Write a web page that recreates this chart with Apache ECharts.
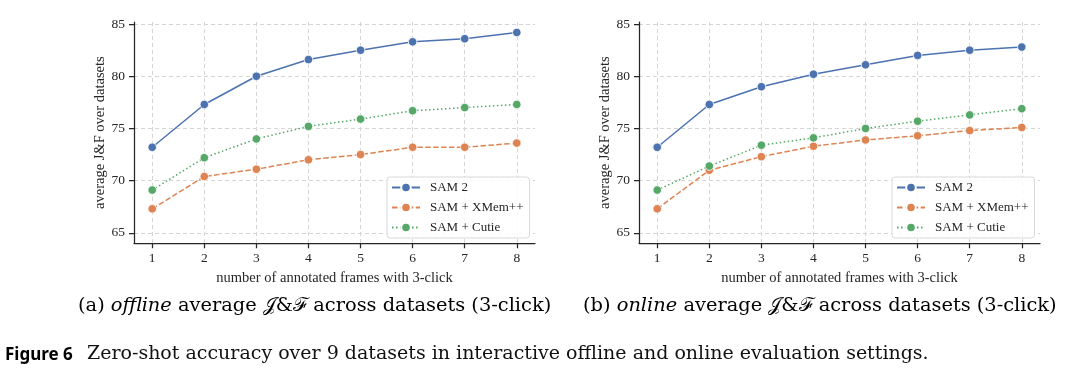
<!DOCTYPE html>
<html>
<head>
<meta charset="utf-8">
<script src="https://cdn.jsdelivr.net/npm/echarts@6/dist/echarts.min.js"></script>
<style>
html,body{margin:0;padding:0;background:#fff;}
#c{width:1072px;height:378px;}
</style>
</head>
<body>
<div id="c"></div>
<script>
// ---- data ----
const frames = [1, 2, 3, 4, 5, 6, 7, 8];
const yTicks = [65, 70, 75, 80, 85];
const seriesNames = ['SAM 2', 'SAM + XMem++', 'SAM + Cutie'];
const offlineSam2  = [73.2, 77.3, 80.0, 81.6, 82.5, 83.3, 83.6, 84.2];
const offlineXMem  = [67.3, 70.4, 71.1, 72.0, 72.5, 73.2, 73.2, 73.6];
const offlineCutie = [69.1, 72.2, 74.0, 75.2, 75.9, 76.7, 77.0, 77.3];
const onlineSam2   = [73.2, 77.3, 79.0, 80.2, 81.1, 82.0, 82.5, 82.8];
const onlineXMem   = [67.3, 71.0, 72.3, 73.3, 73.9, 74.3, 74.8, 75.1];
const onlineCutie  = [69.1, 71.4, 73.4, 74.1, 75.0, 75.7, 76.3, 76.9];
const xAxisTitle = 'number of annotated frames with 3-click';
const yAxisTitle = 'average J&F over datasets';

// ---- styles ----
const SERIF = 'Liberation Serif';
const CAP = 'DejaVu Serif';
const colors = ['#4C72B0', '#DD8452', '#55A868'];
const lineTypes = ['solid', [5.5, 2.4], [1.5, 2.5]];
const axisDark = '#262626';

const panels = [
  { left: 134, data: [offlineSam2, offlineXMem, offlineCutie] },
  { left: 639, data: [onlineSam2, onlineXMem, onlineCutie] }
];

const grids = [], xAxes = [], yAxes = [], series = [], legends = [];
panels.forEach((p, i) => {
  grids.push({ left: p.left, top: 22, width: 401, height: 221.3, containLabel: false });
  xAxes.push({
    type: 'value', gridIndex: i, min: 0.65, max: 8.35,
    name: xAxisTitle, nameLocation: 'middle', nameGap: 22,
    nameTextStyle: { fontFamily: SERIF, fontSize: 14.5, color: '#262626' },
    axisLine: { show: true, lineStyle: { color: axisDark, width: 1.25 } },
    axisTick: { show: true, length: 5, lineStyle: { color: axisDark, width: 1.25 }, customValues: frames },
    axisLabel: { fontFamily: SERIF, fontSize: 13.5, color: '#262626', margin: 8, customValues: frames },
    splitLine: { show: true, lineStyle: { color: '#d5d5d5', type: [4, 3], width: 1 } }
  });
  yAxes.push({
    type: 'value', gridIndex: i, min: 64, max: 85.2,
    name: yAxisTitle, nameLocation: 'middle', nameGap: 23, nameRotate: 90,
    nameTextStyle: { fontFamily: SERIF, fontSize: 14.5, color: '#262626' },
    axisLine: { show: true, lineStyle: { color: axisDark, width: 1.25 } },
    axisTick: { show: true, length: 5, lineStyle: { color: axisDark, width: 1.25 }, customValues: yTicks },
    axisLabel: { fontFamily: SERIF, fontSize: 13.5, color: '#262626', margin: 9, customValues: yTicks },
    splitLine: { show: true, lineStyle: { color: '#d5d5d5', type: [4, 3], width: 1 } }
  });
  p.data.forEach((vals, k) => {
    series.push({
      name: seriesNames[k], type: 'line', xAxisIndex: i, yAxisIndex: i,
      data: frames.map((f, j) => [f, vals[j]]),
      symbol: 'circle', symbolSize: 8.5, showSymbol: true,
      color: colors[k],
      lineStyle: { color: colors[k], width: 1.5, type: lineTypes[k] },
      itemStyle: { color: colors[k], borderColor: '#ffffff', borderWidth: 0.8 },
      z: 3 + k, animation: false
    });
  });
  legends.push({
    orient: 'vertical', left: p.left + 253, top: 177,
    data: seriesNames,
    itemWidth: 28, itemHeight: 12, itemGap: 7,
    padding: [4, 6, 4, 4],
    backgroundColor: 'rgba(255,255,255,0.85)',
    borderColor: '#d9d9d9', borderWidth: 1, borderRadius: 3,
    textStyle: { fontFamily: SERIF, fontSize: 13, color: '#262626', padding: [0, 0, 0, 5] },
    selectedMode: false
  });
});

const captionRich = {
  r: { fontFamily: CAP, fontSize: 19.4, color: '#111' },
  i: { fontFamily: CAP, fontSize: 19.4, fontStyle: 'italic', color: '#111' },
  s: { fontFamily: 'DejaVu Serif', fontSize: 19.4, color: '#111' }
};

const option = {
  animation: false,
  backgroundColor: '#ffffff',
  grid: grids, xAxis: xAxes, yAxis: yAxes, series: series, legend: legends,
  graphic: [
    { type: 'text', left: 78, top: 296, style: { text: '{r|(a) }{i|offline}{r| average }{s|𝒥&ℱ}{r| across datasets (3-click)}', rich: captionRich } },
    { type: 'text', left: 583, top: 296, style: { text: '{r|(b) }{i|online}{r| average }{s|𝒥&ℱ}{r| across datasets (3-click)}', rich: captionRich } },
    { type: 'text', left: 5, top: 347, style: { text: '{b|Figure 6}', rich: { b: { fontFamily: 'Noto Sans', fontWeight: 'bold', fontSize: 17, color: '#111' } } } },
    { type: 'text', left: 87, top: 345, style: { text: 'Zero-shot accuracy over 9 datasets in interactive offline and online evaluation settings.',
        fontFamily: CAP, fontSize: 19, fill: '#111' } }
  ]
};

const chart = echarts.init(document.getElementById('c'), null, { renderer: 'canvas' });
chart.setOption(option);
</script>
</body>
</html>
